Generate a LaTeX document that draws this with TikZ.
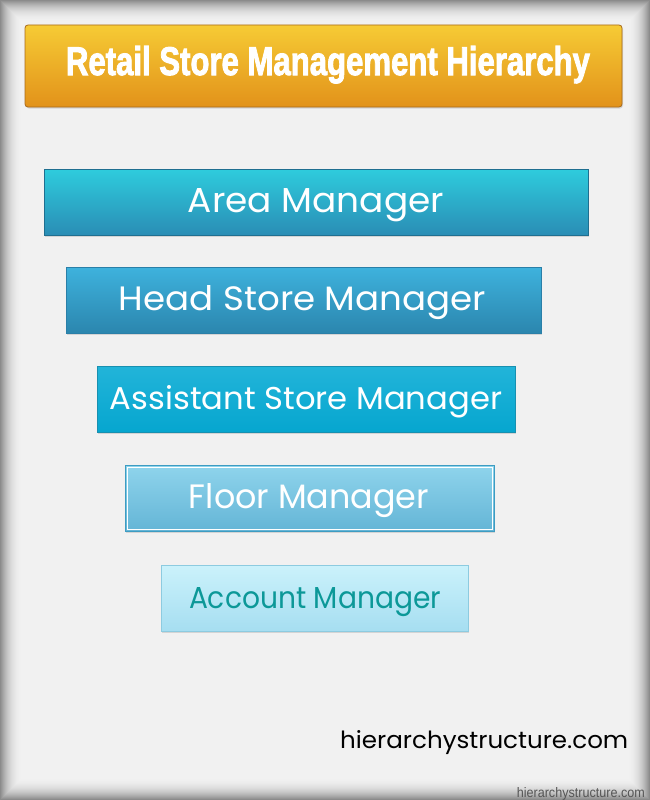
\documentclass[tikz,border=0pt]{standalone}
\usepackage{fontspec}
\setmainfont{Poppins}
\newfontfamily\arialfont{Liberation Sans}
\newfontfamily\titlefont{Liberation Sans}[FakeBold=2.5]
\usetikzlibrary{shadows}
\definecolor{bgc}{HTML}{F1F1F1}
\definecolor{titletop}{HTML}{F6CB35}
\definecolor{titlebot}{HTML}{E2921A}
\definecolor{titleline}{HTML}{A86A1C}
\definecolor{areatop}{HTML}{2ECCDD}
\definecolor{areabot}{HTML}{2A8DB5}
\definecolor{arealine}{HTML}{1F6F90}
\definecolor{headtop}{HTML}{3EB2DD}
\definecolor{headbot}{HTML}{2B86AE}
\definecolor{headline}{HTML}{2A7FA8}
\definecolor{assttop}{HTML}{22B4D9}
\definecolor{asstbot}{HTML}{06A6CF}
\definecolor{asstline}{HTML}{1890B0}
\definecolor{floortop}{HTML}{8FD4EC}
\definecolor{floorbot}{HTML}{64B5D6}
\definecolor{floorline}{HTML}{3E9CC2}
\definecolor{acctop}{HTML}{CBF2FB}
\definecolor{accbot}{HTML}{A6DEF1}
\definecolor{accline}{HTML}{8DCBE0}
\definecolor{acctext}{HTML}{0C9898}
\definecolor{wmark}{HTML}{555555}
\begin{document}
\begin{tikzpicture}[x=1pt,y=-1pt,
  boxshape/.style={rectangle, inner sep=0pt, outer sep=0pt, line width=0.8pt,
    drop shadow={opacity=0.25, shadow xshift=1pt, shadow yshift=-1.5pt}},
  lbl/.style={anchor=base, inner sep=0pt, text=white}]
\useasboundingbox (0,0) rectangle (650,800);
\fill[bgc] (0,0) rectangle (650,800);
\foreach \i in {0,...,21}{
  \pgfmathsetmacro{\op}{0.42*(1-\i/22)^2.2}
  \draw[line width=1pt, black, opacity=\op] (\i+0.5,\i+0.5) rectangle (649.5-\i,799.5-\i);
}
% title
\node[boxshape, rounded corners=3pt, draw=titleline, top color=titletop, bottom color=titlebot,
  minimum width=597pt, minimum height=82pt] (title) at (323.5,66) {};
\node[lbl] (titletext) at (328,75) {\resizebox{524pt}{29pt}{\titlefont\bfseries Retail Store Management Hierarchy}};
% levels
\node[boxshape, draw=arealine, top color=areatop, bottom color=areabot,
  minimum width=544pt, minimum height=66pt] (area) at (316,202) {};
\node[lbl] (areatext) at (316,212) {\resizebox{256pt}{24pt}{Area Manager}};
\node[boxshape, draw=headline, top color=headtop, bottom color=headbot,
  minimum width=475pt, minimum height=66pt] (head) at (303.5,300) {};
\node[lbl] (headtext) at (302.5,310) {\resizebox{367pt}{25pt}{Head Store Manager}};
\node[boxshape, draw=asstline, top color=assttop, bottom color=asstbot,
  minimum width=418pt, minimum height=66pt] (asst) at (306,399) {};
\node[lbl] (assttext) at (306,409) {\resizebox{392pt}{24pt}{Assistant Store Manager}};
\node[boxshape, draw=floorline, top color=floortop, bottom color=floorbot,
  minimum width=369pt, minimum height=66pt] (floor) at (309.5,498) {};
\draw[white, line width=0.8pt] ([xshift=2pt,yshift=-2pt]floor.north west) rectangle ([xshift=-2pt,yshift=2pt]floor.south east);
\node[lbl] (floortext) at (309,508) {\resizebox{240pt}{25pt}{Floor Manager}};
\node[boxshape, draw=accline, top color=acctop, bottom color=accbot,
  minimum width=307pt, minimum height=66pt] (acc) at (314.5,598) {};
\node[lbl, text=acctext] (acctext) at (315,608) {\resizebox{252pt}{21pt}{Account Manager}};
% footer
\node[anchor=base west, inner sep=0pt] (site) at (340,748) {\resizebox{288pt}{18pt}{hierarchystructure.com}};
\node[anchor=base east, inner sep=0pt, text=wmark] (wm) at (645,797) {\resizebox{128pt}{10pt}{\arialfont hierarchystructure.com}};
\end{tikzpicture}
\end{document}
